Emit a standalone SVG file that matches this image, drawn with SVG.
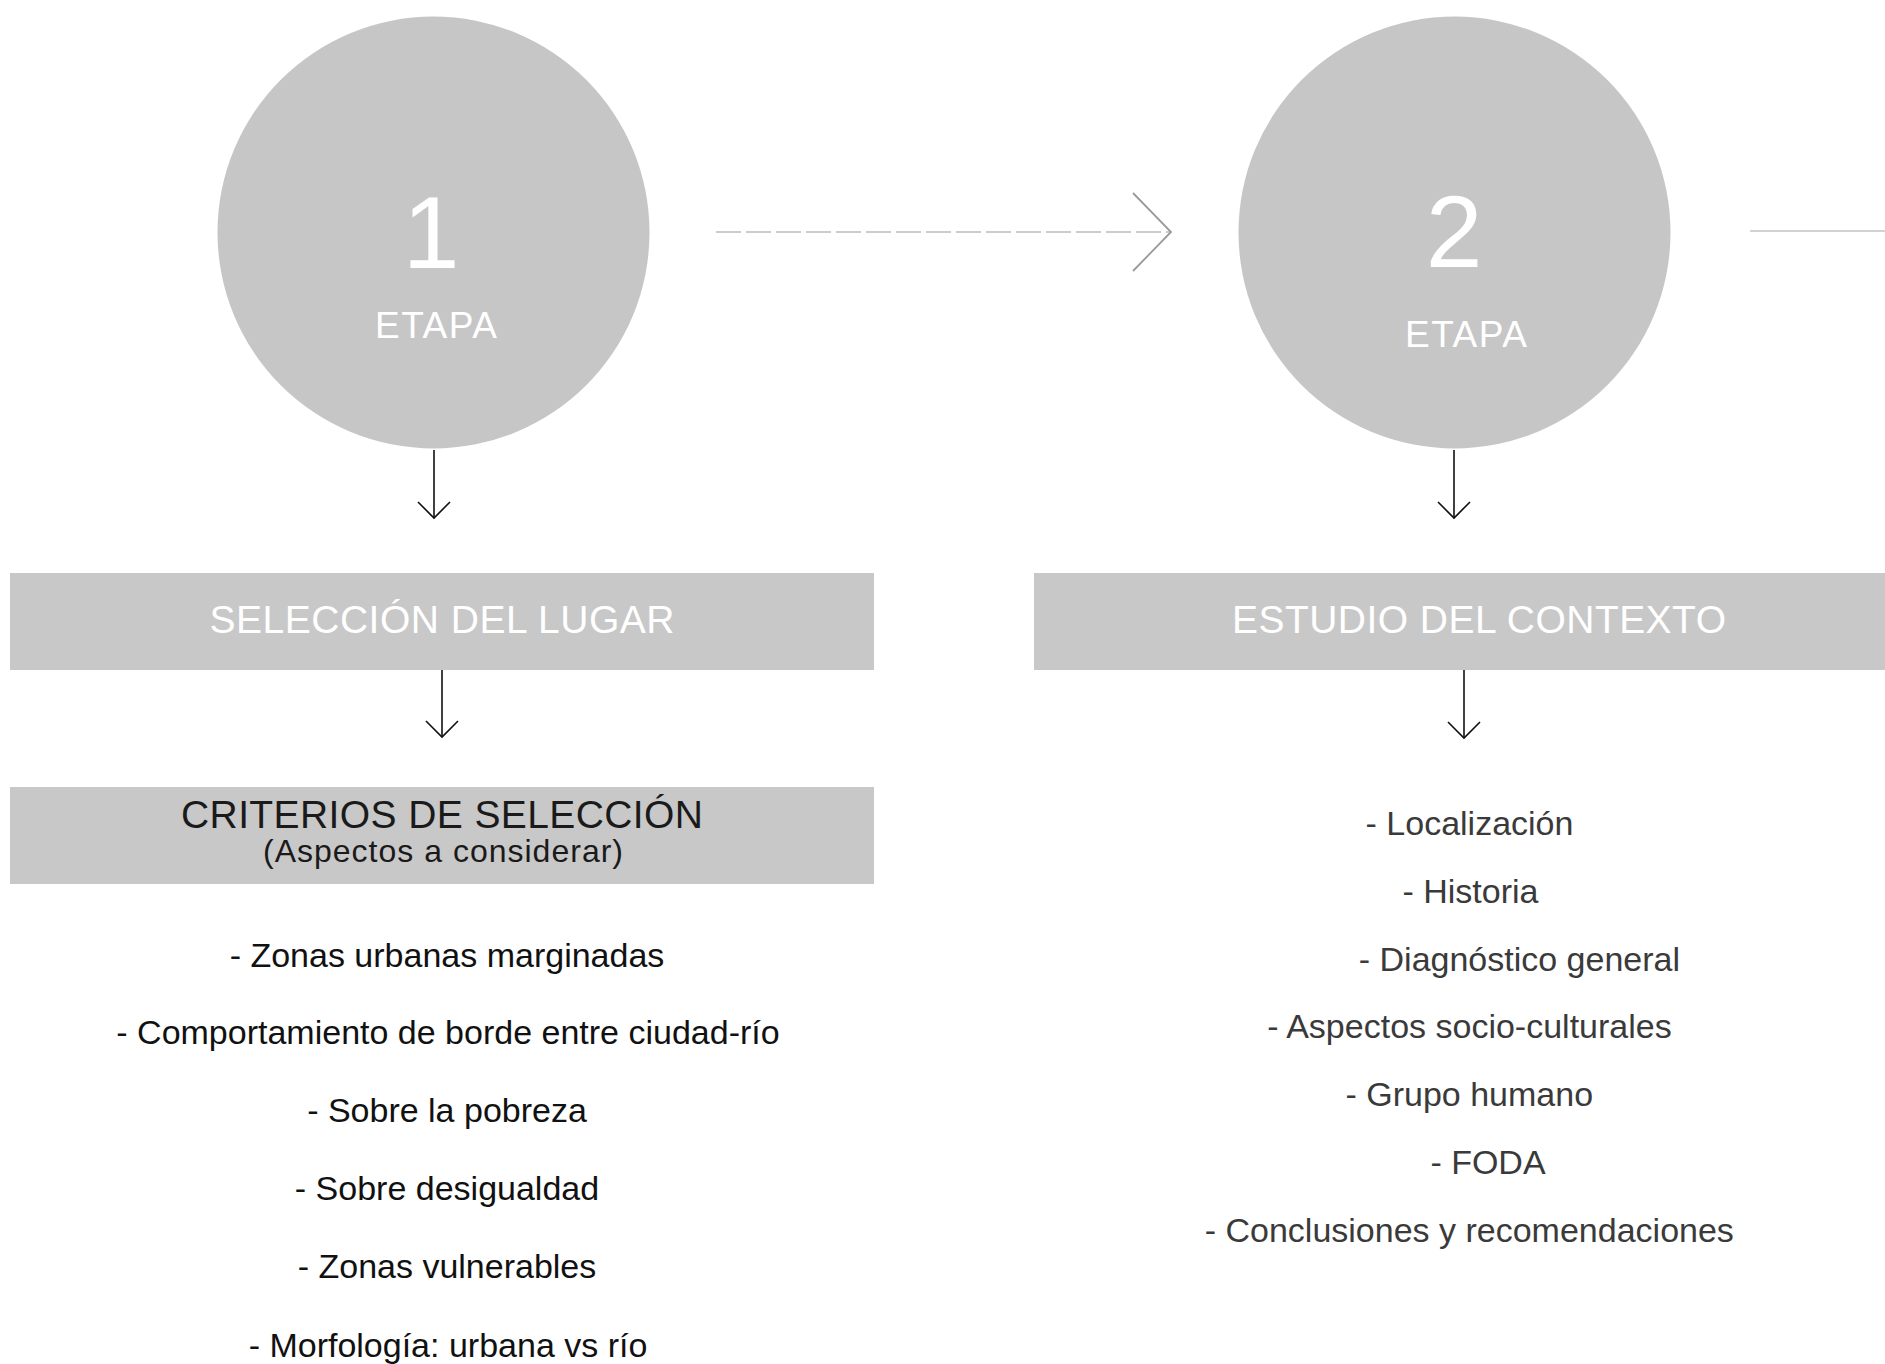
<svg xmlns="http://www.w3.org/2000/svg" width="1885" height="1364" viewBox="0 0 1885 1364">
  <defs>
    <style>
      text { font-family: "Liberation Sans", Arial, sans-serif; text-anchor: middle; }
      .circ { fill: #c6c6c6; }
      .box { fill: #c8c8c8; }
      .wt { fill: #ffffff; }
      .big { font-size: 102px; }
      .etapa { font-size: 37px; }
      .title { font-size: 39px; }
      .crit { font-size: 39px; fill: #1a1a1a; }
      .sub { font-size: 32px; fill: #1a1a1a; }
      .li { font-size: 34px; fill: #111111; }
      .ri { font-size: 34px; fill: #3a3a3a; }
      .arr { stroke: #111111; stroke-width: 1.6; fill: none; }
    </style>
    <marker id="chev" viewBox="0 0 40 40" refX="20" refY="20" markerWidth="40" markerHeight="40" markerUnits="userSpaceOnUse" orient="auto">
      <path d="M4,4 L20,20 L4,36" fill="none" stroke="#111111" stroke-width="1.6"/>
    </marker>
    <marker id="chevBig" viewBox="0 0 90 90" refX="45" refY="45" markerWidth="90" markerHeight="90" markerUnits="userSpaceOnUse" orient="auto">
      <path d="M7,6 L45,45 L7,84" fill="none" stroke="#9a9a9a" stroke-width="1.8"/>
    </marker>
  </defs>
  <rect width="1885" height="1364" fill="#ffffff"/>

  <g id="connectors">
    <path d="M716,232 H1171" stroke="#bcbcbc" stroke-width="1.6" stroke-dasharray="25 5" fill="none" marker-end="url(#chevBig)"/>
    <path d="M1750,231 H1885" stroke="#d2d2d2" stroke-width="2" fill="none"/>
    <path class="arr" d="M434,450 V518" marker-end="url(#chev)"/>
    <path class="arr" d="M442,670 V737" marker-end="url(#chev)"/>
    <path class="arr" d="M1454,450 V518" marker-end="url(#chev)"/>
    <path class="arr" d="M1464,670 V738" marker-end="url(#chev)"/>
  </g>

  <g id="etapa1">
    <circle class="circ" cx="433.5" cy="232.5" r="216"/>
    <text class="wt big" x="431" y="268">1</text>
    <text class="wt etapa" x="436" y="338" textLength="122">ETAPA</text>
  </g>

  <g id="etapa2">
    <circle class="circ" cx="1454.5" cy="232.5" r="216"/>
    <text class="wt big" x="1454" y="267">2</text>
    <text class="wt etapa" x="1466" y="347" textLength="122">ETAPA</text>
  </g>

  <g id="seleccion">
    <rect class="box" x="10" y="573" width="864" height="97"/>
    <text class="wt title" x="442" y="633" textLength="465">SELECCIÓN DEL LUGAR</text>
  </g>

  <g id="criterios">
    <rect class="box" x="10" y="787" width="864" height="97"/>
    <text class="crit" x="442" y="828" textLength="522">CRITERIOS DE SELECCIÓN</text>
    <text class="sub" x="443" y="862" textLength="360">(Aspectos a considerar)</text>
  </g>

  <g id="estudio">
    <rect class="box" x="1034" y="573" width="851" height="97"/>
    <text class="wt title" x="1479" y="633" textLength="494">ESTUDIO DEL CONTEXTO</text>
  </g>

  <g id="lista-criterios">
    <text class="li" x="447" y="967">- Zonas urbanas marginadas</text>
    <text class="li" x="448" y="1044">- Comportamiento de borde entre ciudad-río</text>
    <text class="li" x="447" y="1122">- Sobre la pobreza</text>
    <text class="li" x="447" y="1200">- Sobre desigualdad</text>
    <text class="li" x="447" y="1278">- Zonas vulnerables</text>
    <text class="li" x="448" y="1357">- Morfología: urbana vs río</text>
  </g>

  <g id="lista-contexto">
    <text class="ri" x="1469.5" y="835">- Localización</text>
    <text class="ri" x="1470.5" y="903">- Historia</text>
    <text class="ri" x="1519.4" y="971">- Diagnóstico general</text>
    <text class="ri" x="1469.5" y="1038">- Aspectos socio-culturales</text>
    <text class="ri" x="1469.3" y="1106">- Grupo humano</text>
    <text class="ri" x="1488" y="1174">- FODA</text>
    <text class="ri" x="1469.3" y="1242">- Conclusiones y recomendaciones</text>
  </g>
</svg>
